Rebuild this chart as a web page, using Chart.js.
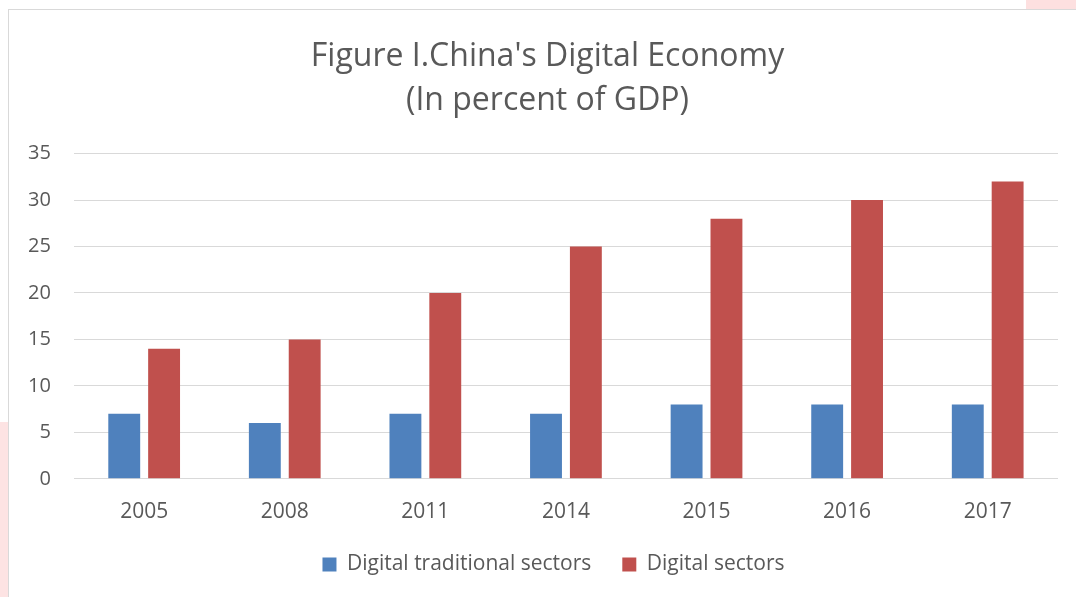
<!DOCTYPE html>
<html>
<head>
<meta charset="utf-8">
<script src="https://cdn.jsdelivr.net/npm/chart.js@4.4.0/dist/chart.umd.min.js"></script>
<style>
  html, body { margin: 0; padding: 0; background: #ffffff; overflow: hidden; }
  #page { position: relative; width: 1076px; height: 597px; overflow: hidden; background: #ffffff; }
  .pinkL { position: absolute; left: 0; top: 422px; width: 9px; height: 175px; background: #fde3e3; }
  .pinkR { position: absolute; left: 1026px; top: 0; width: 50px; height: 10px; background: #fde0e0; }
  #frame { position: absolute; left: 8px; top: 9px; width: 1100px; height: 620px; border: 1px solid #d9d9d9; background: #ffffff; }
  #wrap { position: absolute; left: 0; top: 0; width: 1076px; height: 597px; }
</style>
</head>
<body>
<div id="page">
  <div class="pinkL"></div>
  <div class="pinkR"></div>
  <div id="frame"></div>
  <div id="wrap"><canvas id="c" width="1076" height="597"></canvas></div>
</div>
<script>
const categories = ["2005", "2008", "2011", "2014", "2015", "2016", "2017"];
const traditionalValues = [7, 6, 7, 7, 8, 8, 8];
const digitalValues = [14, 15, 20, 25, 28, 30, 32];
const yTicks = [0, 5, 10, 15, 20, 25, 30, 35];
const titleLines = ["Figure I.China's Digital Economy", "(In percent of GDP)"];
const seriesNames = ["Digital traditional sectors", "Digital sectors"];

const FONT = "'Open Sans', sans-serif";
const TXT = "#595959";

// legend / title placement tweak after layout
const blockShift = {
  id: "blockShift",
  afterLayout(chart) {
    if (chart.legend) {
      chart.legend.top -= 15; chart.legend.bottom -= 15;
      chart.legend.left += 22; chart.legend.right += 22;
    }
    if (chart.titleBlock) {
      chart.titleBlock.left += 16; chart.titleBlock.right += 16;
    }
  }
};

new Chart(document.getElementById("c"), {
  type: "bar",
  data: {
    labels: categories,
    datasets: [
      { label: seriesNames[0], data: traditionalValues, backgroundColor: "#4F81BD", borderWidth: 0,
        categoryPercentage: 0.567, barPercentage: 0.8 },
      { label: seriesNames[1], data: digitalValues, backgroundColor: "#C0504D", borderWidth: 0,
        categoryPercentage: 0.567, barPercentage: 0.8 }
    ]
  },
  options: {
    responsive: false,
    animation: false,
    layout: { padding: { left: 5, right: 18, top: 12, bottom: -3 } },
    plugins: {
      title: {
        display: true,
        text: titleLines,
        color: TXT,
        font: { family: FONT, size: 32, weight: "normal", lineHeight: 1.4 },
        padding: { top: 22, bottom: 30 }
      },
      legend: {
        position: "bottom",
        labels: {
          color: TXT,
          font: { family: FONT, size: 21 },
          boxWidth: 14, boxHeight: 14,
          padding: 31
        }
      },
      tooltip: { enabled: false }
    },
    scales: {
      x: {
        grid: { display: false },
        border: { display: false },
        ticks: { color: TXT, font: { family: FONT, size: 21 }, padding: 13 }
      },
      y: {
        min: 0, max: 35,
        afterBuildTicks: (axis) => { axis.ticks = yTicks.map(v => ({ value: v })); },
        grid: { color: "#d9d9d9", lineWidth: 1, drawTicks: false },
        border: { display: false },
        ticks: { color: TXT, font: { family: FONT, size: 20 }, padding: 23 }
      }
    }
  },
  plugins: [blockShift]
});
</script>
</body>
</html>
